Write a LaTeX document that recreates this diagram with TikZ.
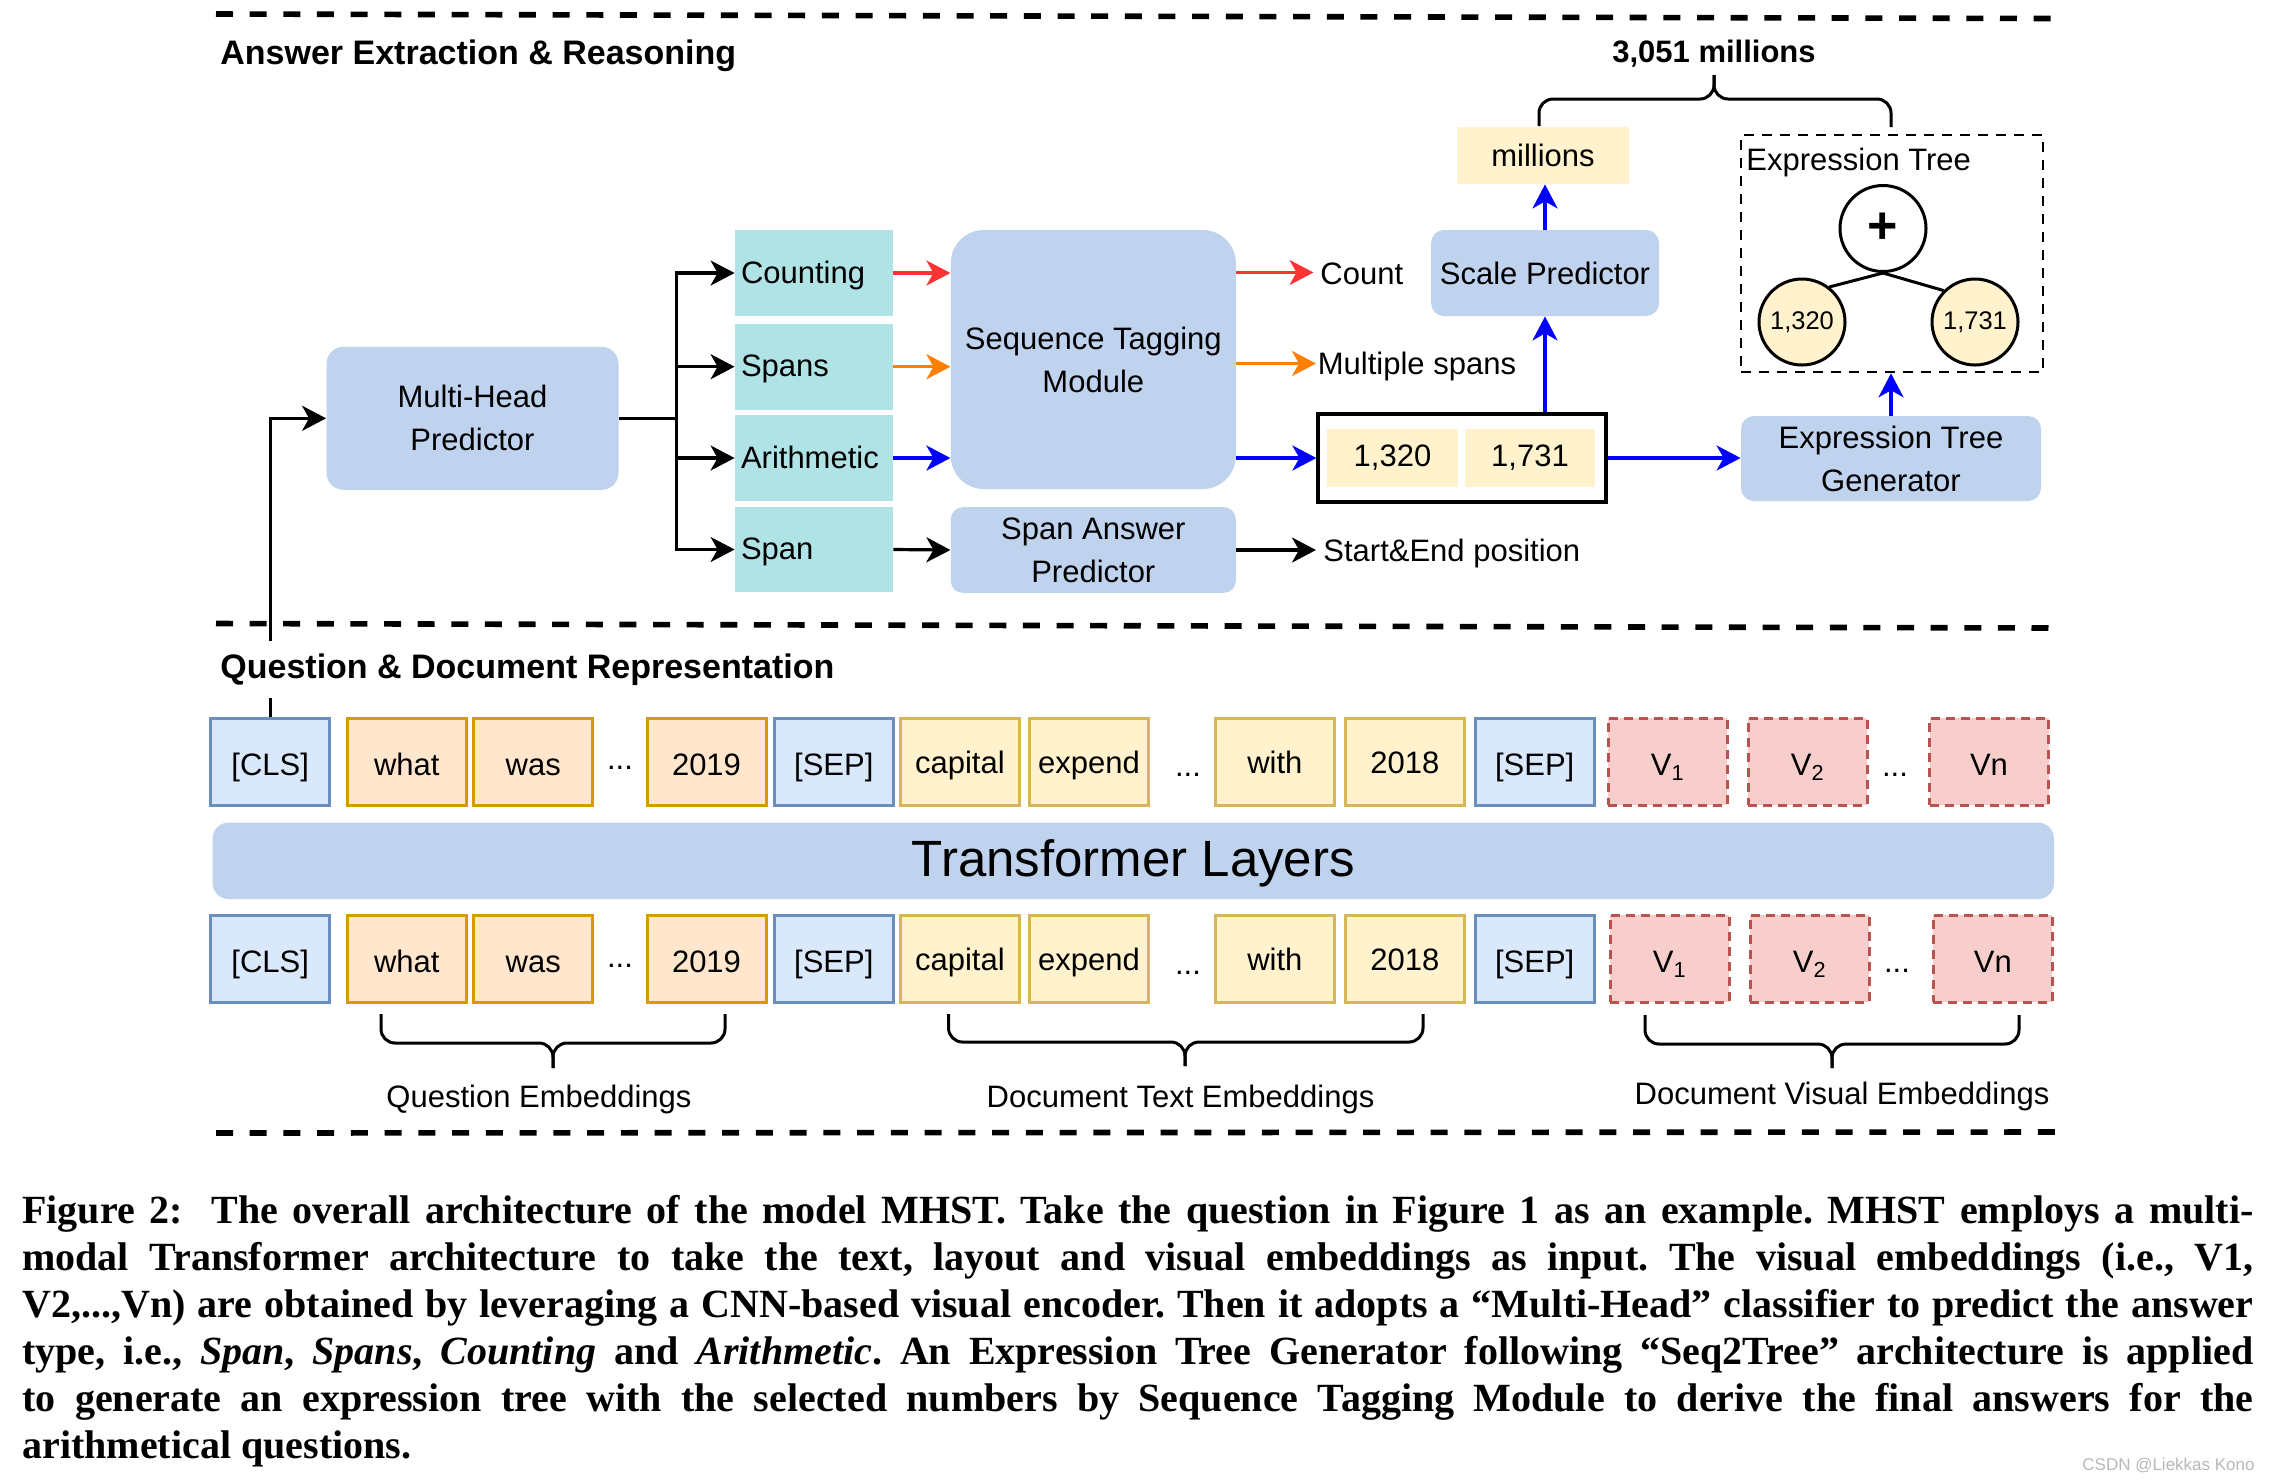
\documentclass[tikz,border=0pt]{standalone}
\usepackage{fontspec}
\setmainfont{Liberation Sans}
\newfontfamily\capfont{Liberation Serif}
\usetikzlibrary{arrows.meta}
\definecolor{modblue}{HTML}{BFD2EE}
\definecolor{headteal}{HTML}{B0E3E6}
\definecolor{ylfill}{HTML}{FFF2CC}
\definecolor{yldraw}{HTML}{D6B656}
\definecolor{orfill}{HTML}{FFE6CC}
\definecolor{ordraw}{HTML}{D79B00}
\definecolor{blfill}{HTML}{DAE8FC}
\definecolor{bldraw}{HTML}{6C8EBF}
\definecolor{rdfill}{HTML}{F8CECC}
\definecolor{rddraw}{HTML}{B85450}
\definecolor{arrred}{HTML}{FF3333}
\definecolor{arrorange}{HTML}{FF8000}
\definecolor{arrblue}{HTML}{0000FF}
\begin{document}
\frenchspacing
\begin{tikzpicture}[x=0.5pt,y=-0.5pt,
  every node/.style={font=\fontsize{15.5}{21.5}\selectfont, inner sep=0pt},
  module/.style={fill=modblue, rounded corners=7pt, align=center},
  headbox/.style={fill=headteal, minimum width=79pt, minimum height=43pt, text width=73pt, inner xsep=3pt, align=left, text height=10pt, text depth=0pt},
  tok/.style={minimum width=59.5pt, minimum height=43.5pt, line width=1.5pt, text height=13.5pt, text depth=0pt},
  tokb/.style={tok, fill=blfill, draw=bldraw},
  toko/.style={tok, fill=orfill, draw=ordraw},
  toky/.style={tok, fill=ylfill, draw=yldraw, text height=12pt},
  tokv/.style={tok, fill=rdfill, draw=rddraw, dash pattern=on 4.5pt off 3pt},
  ellip/.style={},
  conn/.style={line width=1.6pt, -{Stealth[length=12pt,width=12.5pt,inset=3.5pt]}},
  plainline/.style={line width=1.5pt},
  divline/.style={line width=2.8pt},
  hdr/.style={font=\fontsize{17}{20}\selectfont\bfseries, anchor=base west},
  cbrace/.style={line width=1.5pt, rounded corners=7pt},
  treenode/.style={circle, draw, line width=1.5pt, minimum size=43pt},
  capline/.style={anchor=base west, font=\capfont\bfseries\fontsize{20}{22}\selectfont},
]
\useasboundingbox (0,0) rectangle (2270,1480);
\fill[white] (0,0) rectangle (2270,1480);

% separators
\draw[divline, dash pattern=on 8.5pt off 8.33pt] (216,14) -- (2051,18.5);
\draw[divline, dash pattern=on 8.5pt off 8.31pt] (216,623.5) -- (2049,628);
\draw[divline, dash pattern=on 8.5pt off 8.37pt] (216,1133) -- (2055,1132);

% ---------- Answer extraction part ----------
\node[hdr] (hdrA) at (220,64.5) {Answer Extraction \& Reasoning};

\node[module, rounded corners=8.5pt, minimum width=146pt, minimum height=71.5pt] (mh) at (472.5,418.3) {Multi-Head\\Predictor};

\node[headbox] (cnt) at (814,273) {Counting};
\node[headbox] (spn) at (814,366.7) {Spans};
\node[headbox] (ari) at (814,458) {Arithmetic};
\node[headbox, minimum height=42.5pt] (one) at (814,549.5) {Span};

\node[module, rounded corners=16.5pt, minimum width=142.5pt, minimum height=129.5pt] (stm) at (1093.3,359.5) {\raisebox{-1.5pt}{Sequence Tagging}\\\raisebox{-1.5pt}{Module}};
\node[module, rounded corners=6pt, minimum width=142.5pt, minimum height=42.8pt] (sap) at (1093.3,550) {Span Answer\\Predictor};

\coordinate (bus) at (676.7,418.3);
\draw[plainline] (mh.east) -- (bus);
\draw[conn] (bus) |- (cnt.west);
\draw[conn] (bus) |- (spn.west);
\draw[conn] (bus) |- (ari.west);
\draw[conn] (bus) |- (one.west);

\draw[conn, arrred] (cnt.east) -- (cnt.east -| stm.west);
\draw[conn, arrorange] (spn.east) -- (spn.east -| stm.west);
\draw[conn, arrblue] (ari.east) -- (ari.east -| stm.west);
\draw[conn] (one.east) -- (sap.west);

% outputs
\coordinate (tcount) at (1313.5,272.5);
\coordinate (tmul) at (1316,363.5);
\coordinate (tse) at (1316,550);
\node[anchor=base west] (lcount) at (1320,284.5) {Count};
\node[anchor=base west] (lmul) at (1317.5,374) {Multiple spans};
\node[anchor=base west] (lse) at (1323,561.5) {Start\&End position};
\draw[conn, arrred] (stm.east |- tcount) -- (tcount);
\draw[conn, arrorange] (stm.east |- tmul) -- (tmul);
\draw[conn] (sap.east) -- (sap.east -| tse);

\node[draw, line width=1.6pt, minimum width=144pt, minimum height=44pt] (numbox) at (1462,458) {};
\node[fill=ylfill, minimum width=65.5pt, minimum height=29pt] (c1) at (1392.5,458) {1,320};
\node[fill=ylfill, minimum width=65pt, minimum height=29pt] (c2) at (1530,458) {1,731};
\draw[conn, arrblue] (stm.east |- numbox.west) -- (numbox.west);

\node[module, rounded corners=6.5pt, minimum width=114pt, minimum height=43pt] (scp) at (1545,273) {Scale Predictor};
\node[fill=ylfill, minimum width=86pt, minimum height=28.5pt] (mil) at (1543,155.5) {millions};
\draw[conn, arrblue] (numbox.north -| scp.south) -- (scp.south);
\draw[conn, arrblue] (scp.north) -- (scp.north |- mil.south);

\node[module, rounded corners=6.5pt, minimum width=150pt, minimum height=42.5pt] (etg) at (1891,458.5) {Expression Tree\\Generator};
\draw[conn, arrblue] (numbox.east) -- (numbox.east -| etg.west);

\node[draw, dash pattern=on 5pt off 4pt, line width=1.3pt, minimum width=151pt, minimum height=118.5pt] (ebox) at (1892,253.5) {};
\node[anchor=base west] (elbl) at (1746,170) {Expression Tree};
\node[treenode, fill=white, font=\fontsize{26}{28}\selectfont\bfseries] (plus) at (1883,228.5) {+};
\node[treenode, fill=ylfill, font=\fontsize{12.75}{15}\selectfont] (lf1) at (1802,322) {1,320};
\node[treenode, fill=ylfill, font=\fontsize{12.75}{15}\selectfont] (lf2) at (1975,322) {1,731};
\draw[plainline] (plus.south) -- (lf1.52);
\draw[plainline] (plus.south) -- (lf2.135);
\draw[conn, arrblue] (etg.north) -- (etg.north |- ebox.south);

% final answer brace
\draw[cbrace] (1539,126) -- (1539,99) -- (1714,99) -- (1714,75);
\draw[cbrace] (1891,127) -- (1891,99) -- (1714,99) -- (1714,75);
\node[anchor=base, font=\fontsize{15.5}{18}\selectfont\bfseries] (res) at (1714,62.5) {3,051 millions};

% ---------- Representation part ----------
\node[tokb] (t1cls) at (270.2,761.5) {[CLS]};
\draw[conn] (t1cls.north) |- (mh.west);
\node[hdr, fill=white, inner ysep=6.5pt] (hdrQ) at (220,678.3) {Question \& Document Representation};

\node[toko] (t1what) at (406.8,761.5) {what};
\node[toko] (t1was) at (533.2,761.5) {was};
\node[ellip] (t1d1) at (620,768) {...};
\node[toko] (t1y19) at (706.5,761.5) {2019};
\node[tokb] (t1sep) at (833.8,761.5) {[SEP]};
\node[toky] (t1cap) at (959.9,761.5) {capital};
\node[toky] (t1exp) at (1089,761.5) {expend};
\node[ellip] (t1d2) at (1188,775) {...};
\node[toky] (t1with) at (1274.9,761.5) {with};
\node[toky] (t1y18) at (1404.9,761.5) {2018};
\node[tokb] (t1sep2) at (1534.7,761.5) {[SEP]};
\node[tokv] (t1v1) at (1667.8,761.5) {V\textsubscript{1}};
\node[tokv] (t1v2) at (1807.8,761.5) {V\textsubscript{2}};
\node[ellip] (t1d3) at (1895,775) {...};
\node[tokv] (t1vn) at (1989,761.5) {Vn};

\node[module, rounded corners=8pt, minimum width=920.7pt, minimum height=38.25pt, font=\fontsize{25.5}{30}\selectfont, text height=16pt, text depth=0pt] (tfl) at (1133.3,860.8) {Transformer Layers};

\node[tokb] (t2cls) at (270.2,958.8) {[CLS]};
\node[toko] (t2what) at (406.8,958.8) {what};
\node[toko] (t2was) at (533.2,958.8) {was};
\node[ellip] (t2d1) at (620,966) {...};
\node[toko] (t2y19) at (706.5,958.8) {2019};
\node[tokb] (t2sep) at (833.8,958.8) {[SEP]};
\node[toky] (t2cap) at (959.9,958.8) {capital};
\node[toky] (t2exp) at (1089,958.8) {expend};
\node[ellip] (t2d2) at (1188,973) {...};
\node[toky] (t2with) at (1274.9,958.8) {with};
\node[toky] (t2y18) at (1404.9,958.8) {2018};
\node[tokb] (t2sep2) at (1534.7,958.8) {[SEP]};
\node[tokv] (t2v1) at (1669.7,958.8) {V\textsubscript{1}};
\node[tokv] (t2v2) at (1809.8,958.8) {V\textsubscript{2}};
\node[ellip] (t2d3) at (1897,971) {...};
\node[tokv] (t2vn) at (1992.8,958.8) {Vn};

% braces
\draw[cbrace] (381,1014) -- (381,1043) -- (553,1043) -- (553,1068);
\draw[cbrace] (725,1014) -- (725,1043) -- (553,1043) -- (553,1068);
\draw[cbrace] (948.5,1014) -- (948.5,1042) -- (1185,1042) -- (1185,1066);
\draw[cbrace] (1423,1014) -- (1423,1042) -- (1185,1042) -- (1185,1066);
\draw[cbrace] (1645,1015) -- (1645,1044) -- (1832,1044) -- (1832,1068);
\draw[cbrace] (2019,1015) -- (2019,1044) -- (1832,1044) -- (1832,1068);
\node[anchor=base] (qemb) at (539,1107) {Question Embeddings};
\node[anchor=base] (demb) at (1180.5,1107) {Document Text Embeddings};
\node[anchor=base] (vemb) at (1842,1104) {Document Visual Embeddings};

% ---------- caption ----------
\node[capline] (cap1) at (22,1223) {\makebox[1115.5pt][s]{Figure 2:\ \ The overall architecture of the model MHST. Take the question in Figure 1 as an example. MHST employs a multi-}};
\node[capline] (cap2) at (22,1270) {\makebox[1115.5pt][s]{modal Transformer architecture to take the text, layout and visual embeddings as input. The visual embeddings (i.e., V1,}};
\node[capline] (cap3) at (22,1317) {\makebox[1115.5pt][s]{V2,...,Vn) are obtained by leveraging a CNN-based visual encoder. Then it adopts a “Multi-Head” classifier to predict the answer}};
\node[capline] (cap4) at (22,1364) {\makebox[1115.5pt][s]{type, i.e., \textit{Span}, \textit{Spans}, \textit{Counting} and \textit{Arithmetic}. An Expression Tree Generator following “Seq2Tree” architecture is applied}};
\node[capline] (cap5) at (22,1411) {\makebox[1115.5pt][s]{to generate an expression tree with the selected numbers by Sequence Tagging Module to derive the final answers for the}};
\node[capline] (cap6) at (22,1458) {arithmetical questions.};
\node[anchor=base east, font=\fontsize{8.5}{10}\selectfont, text=black!28] (wm) at (2255,1470) {CSDN @Liekkas Kono};
\end{tikzpicture}
\end{document}
